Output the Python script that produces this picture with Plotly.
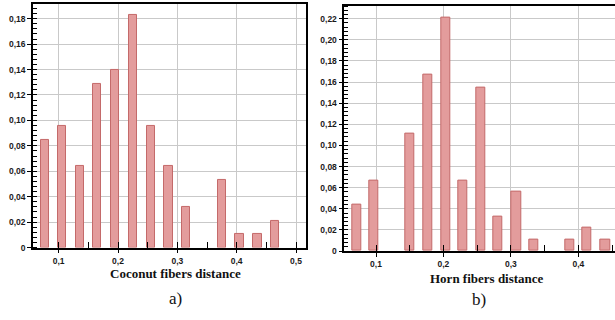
import plotly.graph_objects as go

# Relative frequency histograms of fiber distances
coconut_x = [0.077, 0.106, 0.136, 0.165, 0.195, 0.225, 0.255, 0.285, 0.315,
             0.375, 0.405, 0.435, 0.465]
coconut_freq = [0.085, 0.096, 0.064, 0.129, 0.140, 0.183, 0.096, 0.064, 0.032,
                0.053, 0.011, 0.011, 0.021]

horn_x = [0.071, 0.097, 0.150, 0.177, 0.203, 0.229, 0.255, 0.281, 0.308,
          0.334, 0.387, 0.413, 0.440]
horn_freq = [0.044, 0.067, 0.111, 0.167, 0.221, 0.067, 0.155, 0.033, 0.056,
             0.011, 0.011, 0.022, 0.011]

x_ticks_a = [0.1, 0.2, 0.3, 0.4, 0.5]
x_text_a = ["0,1", "0,2", "0,3", "0,4", "0,5"]
x_ticks_b = [0.1, 0.2, 0.3, 0.4]
x_text_b = ["0,1", "0,2", "0,3", "0,4"]
y_ticks_a = [0, 0.02, 0.04, 0.06, 0.08, 0.10, 0.12, 0.14, 0.16, 0.18]
y_text_a = ["0", "0,02", "0,04", "0,06", "0,08", "0,10", "0,12", "0,14", "0,16", "0,18"]
y_ticks_b = [0, 0.02, 0.04, 0.06, 0.08, 0.10, 0.12, 0.14, 0.16, 0.18, 0.20, 0.22]
y_text_b = ["0", "0,02", "0,04", "0,06", "0,08", "0,10", "0,12", "0,14", "0,16",
            "0,18", "0,20", "0,22"]

bar_fill = "#E39C9C"
bar_edge = "#C46A6A"
grid = "#C9C9C9"

fig = go.Figure()
fig.add_trace(go.Bar(x=coconut_x, y=coconut_freq, width=0.014,
                     marker=dict(color=bar_fill, line=dict(color=bar_edge, width=1)),
                     xaxis="x", yaxis="y", showlegend=False))
fig.add_trace(go.Bar(x=horn_x, y=horn_freq, width=0.0135,
                     marker=dict(color=bar_fill, line=dict(color=bar_edge, width=1)),
                     xaxis="x2", yaxis="y2", showlegend=False))

tick_font = dict(family="Liberation Sans, Arial, sans-serif", size=8.5,
                 color="#1a1a1a", weight="bold")

def xaxis(domain, rng, vals, text, anchor, mirror):
    return dict(domain=domain, range=rng, anchor=anchor,
                tickmode="array", tickvals=vals, ticktext=text,
                ticks="outside", ticklen=4, tickcolor="black", tickwidth=1,
                minor=dict(tickmode="linear", tick0=0, dtick=0.05, ticks="inside",
                           ticklen=6, tickcolor="black", tickwidth=1, showgrid=False),
                showgrid=True, gridcolor=grid, gridwidth=1, zeroline=False,
                showline=True, linecolor="black", linewidth=1.5, mirror=mirror,
                tickfont=tick_font, layer="above traces")

def yaxis(domain, rng, vals, text, anchor, mirror):
    return dict(domain=domain, range=rng, anchor=anchor,
                tickmode="array", tickvals=vals, ticktext=text,
                ticks="outside", ticklen=4, tickcolor="black", tickwidth=1,
                minor=dict(tickmode="linear", tick0=0, dtick=0.004, ticks="inside",
                           ticklen=4, tickcolor="black", tickwidth=1, showgrid=False),
                showgrid=True, gridcolor=grid, gridwidth=1, zeroline=False,
                showline=True, linecolor="black", linewidth=1.5, mirror=mirror,
                tickfont=tick_font, layer="above traces")

W, H = 615, 320
fig.update_layout(
    width=W, height=H,
    margin=dict(l=0, r=0, t=0, b=0),
    paper_bgcolor="white", plot_bgcolor="white",
    bargap=0,
    xaxis=xaxis([33 / W, 305.5 / W], [0.0567, 0.516], x_ticks_a, x_text_a, "y", True),
    yaxis=yaxis([1 - 251.5 / H, 1 - 4 / H], [0, 0.1916], y_ticks_a, y_text_a, "x", True),
    xaxis2=xaxis([344.3 / W, 1.0], [0.053, 0.4544], x_ticks_b, x_text_b, "y2", True),
    yaxis2=yaxis([1 - 255 / H, 1 - 5.7 / H], [0, 0.2324], y_ticks_b, y_text_b, "x2", False),
)

serif_bold = dict(family="Liberation Serif, Times New Roman, serif", size=13,
                  color="#111111", weight="bold")
serif = dict(family="Liberation Serif, Times New Roman, serif", size=17, color="#111111")

annotations = [
    dict(text="Coconut fibers distance", x=175 / W, y=1 - 278 / H, font=serif_bold),
    dict(text="a)", x=175 / W, y=1 - 303 / H, font=serif),
    dict(text="Horn fibers distance", x=487 / W, y=1 - 283.3 / H, font=serif_bold),
    dict(text="b)", x=478.7 / W, y=1 - 304 / H, font=serif),
]
for a in annotations:
    fig.add_annotation(xref="paper", yref="paper", showarrow=False,
                       xanchor="center", yanchor="middle", **a)

fig.write_html("out.html")
